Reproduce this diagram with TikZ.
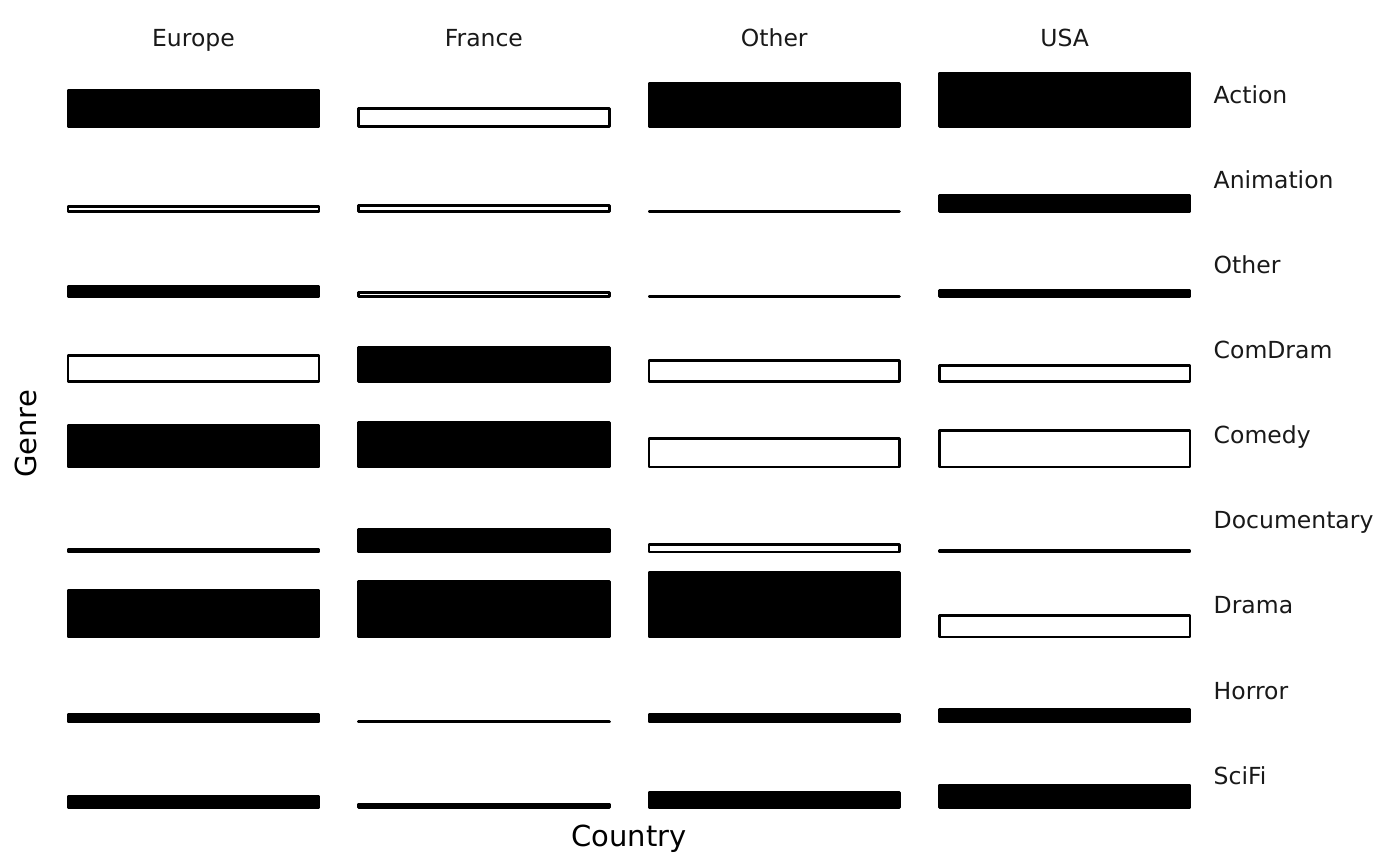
\documentclass[tikz,border=0pt]{standalone}
\usepackage{fontspec}
\setmainfont{DejaVu Sans}
\begin{document}
\begin{tikzpicture}[x=1pt,y=-1pt,
  posbox/.style={draw=black,fill=black,line width=2.6pt,line join=round},
  negbox/.style={draw=black,fill=white,line width=2.6pt,line join=round},
  striplab/.style={inner sep=0pt,text=black!90,font=\fontsize{23.5}{28}\selectfont},
  axtitle/.style={inner sep=0pt,text=black,font=\fontsize{29}{34}\selectfont}]
\useasboundingbox[fill=white] (0,0) rectangle (1400,866);
% column strip labels
\foreach \n/\lab [count=\c from 0] in {eu/Europe,fr/France,ot/Other,us/USA}{
  \pgfmathsetmacro\xc{66.7+290.4*\c+126.75}
  \node[striplab,anchor=base] (col\n) at (\xc,46.5) {\lab};
}
% row strip labels
\foreach \n/\lab [count=\r from 0] in {act/Action,ani/Animation,oth/Other,cdr/ComDram,com/Comedy,doc/Documentary,dra/Drama,hor/Horror,sci/SciFi}{
  \pgfmathsetmacro\yc{103.3+85.1*\r}
  \node[striplab,anchor=base west] (row\n) at (1213.5,\yc) {\lab};
}
% boxes: column, row, outer top, style
\foreach \c/\r/\t/\s in {
  0/0/89.3/posbox, 1/0/107.3/negbox, 2/0/82.3/posbox, 3/0/71.7/posbox,
  0/1/205/negbox, 1/1/204.3/negbox, 2/1/210/negbox, 3/1/194/posbox,
  0/2/285/posbox, 1/2/291/negbox, 2/2/295/negbox, 3/2/289.3/posbox,
  0/3/354.3/negbox, 1/3/346/posbox, 2/3/359.3/negbox, 3/3/364/negbox,
  0/4/424/posbox, 1/4/421/posbox, 2/4/437.3/negbox, 3/4/429/negbox,
  0/5/548.3/posbox, 1/5/528/posbox, 2/5/543.3/negbox, 3/5/549.3/posbox,
  0/6/589/posbox, 1/6/580/posbox, 2/6/571/posbox, 3/6/614/negbox,
  0/7/713.3/posbox, 1/7/720/posbox, 2/7/713.3/posbox, 3/7/708.3/posbox,
  0/8/795/posbox, 1/8/802.7/posbox, 2/8/791/posbox, 3/8/783.7/posbox}{
  \pgfmathsetmacro\xa{66.7+290.4*\c+1.3}
  \pgfmathsetmacro\xb{66.7+290.4*\c+253.5-1.3}
  \pgfmathsetmacro\ya{\t+1.3}
  \pgfmathsetmacro\yb{127.7+85.1*\r-1.3}
  \draw[\s] (\xa,\ya) rectangle (\xb,\yb);
}
% axis titles
\node[axtitle,anchor=base] (xtitle) at (629,846) {Country};
\node[axtitle,anchor=base,rotate=90] (ytitle) at (36.5,434) {Genre};
\end{tikzpicture}
\end{document}
